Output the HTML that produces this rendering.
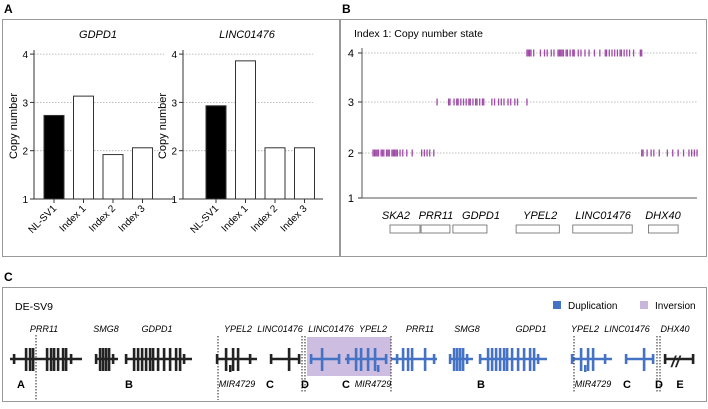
<!DOCTYPE html>
<html><head><meta charset="utf-8"><style>
body{margin:0;background:#fff;font-family:"Liberation Sans",sans-serif}
svg text{font-family:"Liberation Sans",sans-serif}
</style></head><body>
<svg id="fig" width="708" height="404" viewBox="0 0 708 404" xmlns="http://www.w3.org/2000/svg">
<g id="chrome">
<text x="4" y="13" font-size="12" font-weight="bold">A</text>
<text x="342" y="13" font-size="12" font-weight="bold">B</text>
<text x="4" y="281" font-size="12" font-weight="bold">C</text>
<rect x="2.5" y="19.5" width="337" height="237" fill="none" stroke="#999"/>
<rect x="340.5" y="19.5" width="366" height="237" fill="none" stroke="#999"/>
<rect x="2.5" y="287.5" width="704" height="114" fill="none" stroke="#999"/>
</g>
<g id="pa"></g><g id="pb"></g><g id="pc"></g>
</svg>
<script>
const NS="http://www.w3.org/2000/svg";
function mk(p,t,a,txt){const e=document.createElementNS(NS,t);for(const k in a)e.setAttribute(k,a[k]);if(txt!=null)e.textContent=txt;p.appendChild(e);return e;}

// Panel A data
const barCats=["NL-SV1","Index 1","Index 2","Index 3"];
const gdpd1Values=[2.73,3.13,1.92,2.06];
const lincValues=[2.93,3.86,2.06,2.06];
const yTicksA=[1,2,3,4];

// Panel B data (genomic position 0-120, copy number state)
const cnLevel2a=[0,0.5,1,1.5,2,3,3.5,4,5,5.5,6,7,7.5,8,8.5,9,10,11,12.5,14.5,18,19,20,21,22.5];
const cnLevel3=[23.7,28,28.5,30,31,31.5,32.5,33.5,34.5,35.5,36,37,38,38.5,39.5,40.5,41,44,45,46.5,47.5,48.5,50,51,52.5,53.5,57];
const cnLevel4=[57,57.5,58,58.5,59.5,62,63.5,64.5,66,67,68.5,69,69.5,70,70.5,71.5,72,73,74,74.5,76,77,78.5,80,82,84,86,86.5,87.5,88.5,89.5,90.5,91.5,92,93,94,95,96.5,99,99.5];
const cnLevel2b=[99.5,100,101.5,103,104,106,109,111,113,115,117,118,119,120];
const genesB=["SKA2","PRR11","GDPD1","YPEL2","LINC01476","DHX40"];
const geneStartB=[6.3,17.8,29.6,53,74,102];
const geneEndB=[17.4,28.5,42.2,69,96,113];
const geneLabelPosB=[8.5,23.3,40,61.9,85.2,107.4];

// Panel A
(function(){
 const g=document.getElementById('pa');
 const panels=[{title:"GDPD1",vals:gdpd1Values,ax:34,x0:44},{title:"LINC01476",vals:lincValues,ax:183,x0:206}];
 const y=v=>199-(v-1)*48.3;
 panels.forEach((p,pi)=>{
  const sg=mk(g,'g',{});
  
  
  const t=mk(sg,'text',{x:p.ax+64,y:38,'font-size':11,'font-style':'italic','text-anchor':'middle'},p.title);
  
  yTicksA.forEach(v=>{
   if(v>1){const gl=mk(sg,'line',{x1:p.ax,x2:p.ax+130,y1:y(v),y2:y(v),stroke:'#aaa','stroke-dasharray':'1.5,1.5','stroke-width':0.8});}
   mk(sg,'line',{x1:p.ax-4,x2:p.ax,y1:y(v),y2:y(v),stroke:'#333'});
   const tl=mk(sg,'text',{x:p.ax-6,y:y(v)+4,'font-size':10,'text-anchor':'end'},v);
   
  });
  const yl=mk(sg,'text',{x:0,y:0,'font-size':11,'text-anchor':'middle',transform:`translate(${p.ax-17},126) rotate(-90)`},'Copy number');
  
  p.vals.forEach((v,i)=>{
   const bx=p.x0+i*29.5;
   const r=mk(sg,'rect',{x:bx,y:y(v),width:20,height:199-y(v),fill:i==0?'#000':'#fff',stroke:'#333','stroke-width':1});
   
   const cx=bx+10;
   mk(sg,'line',{x1:cx,x2:cx,y1:199,y2:203,stroke:'#333'});
   const xl=mk(sg,'text',{x:0,y:0,'font-size':10,'text-anchor':'end',transform:`translate(${cx+3},${209}) rotate(-45)`},barCats[i]);
   
  });
  mk(sg,'line',{x1:p.ax,x2:p.ax,y1:50,y2:199,stroke:'#333'});
  mk(sg,'line',{x1:p.ax,x2:p.ax+140,y1:199,y2:199,stroke:'#333'});
 });
})();

// Panel B
(function(){
 const g=document.getElementById('pb');
 const ax=362, xr=697;
 const yv={1:198,2:153,3:102,4:53};
 const xs=v=>373+v*2.7;
 const t=mk(g,'text',{x:354,y:37,'font-size':10.5},'Index 1: Copy number state');
 
 [1,2,3,4].forEach(v=>{
  if(v>1){const gl=mk(g,'line',{x1:ax,x2:xr,y1:yv[v],y2:yv[v],stroke:'#aaa','stroke-dasharray':'1.5,1.5','stroke-width':0.8});}
  mk(g,'line',{x1:ax-4,x2:ax,y1:yv[v],y2:yv[v],stroke:'#333'});
  const tl=mk(g,'text',{x:ax-8,y:yv[v]+4,'font-size':11,'text-anchor':'end'},v);
  
 });
 mk(g,'line',{x1:ax,x2:ax,y1:48,y2:198,stroke:'#555'});
 mk(g,'line',{x1:ax,x2:xr,y1:198,y2:198,stroke:'#555'});
 const series=[[cnLevel2a,2],[cnLevel3,3],[cnLevel4,4],[cnLevel2b,2]];
 series.forEach(([arr,lv])=>{
  arr.forEach(p=>{
   const m=mk(g,'rect',{x:xs(p)-0.6,y:yv[lv]-3.5,width:1.3,height:7,fill:'#a04aa8'});
   
  });
 });
 genesB.forEach((n,i)=>{
  const x1=xs(geneStartB[i]), x2=xs(geneEndB[i]);
  const r=mk(g,'rect',{x:x1,y:225,width:x2-x1,height:8,fill:'#fff',stroke:'#666','stroke-width':0.8});
  
  const tl=mk(g,'text',{x:xs(geneLabelPosB[i]),y:219,'font-size':11,'font-style':'italic','text-anchor':'middle'},n);
  
 });
})();

// Panel C
(function(){
 const g=document.getElementById('pc');
 const K='#222', B='#4472c4';
 const t=mk(g,'text',{x:15,y:310,'font-size':10.5},'DE-SV9');
 let e=mk(g,'rect',{x:553,y:301,width:8,height:8,fill:B});
 e=mk(g,'text',{x:568,y:309,'font-size':10},'Duplication');
 e=mk(g,'rect',{x:640,y:301,width:8,height:8,fill:'#c8b6dc'});
 e=mk(g,'text',{x:655,y:309,'font-size':10},'Inversion');
 e=mk(g,'rect',{x:307,y:337,width:84,height:39,fill:'#cdbde0'});
 const labels=[["PRR11",44],["SMG8",106],["GDPD1",157],["YPEL2",238],["LINC01476",280],["LINC01476",331],["YPEL2",373],["PRR11",420],["SMG8",467],["GDPD1",531],["YPEL2",585],["LINC01476",627],["DHX40",675]];
 labels.forEach(([n,x])=>{const l=mk(g,'text',{x:x,y:332,'font-size':9,'font-style':'italic','text-anchor':'middle'},n);});
 const genes=[
  [10,82,K,[14,26,30,33,47,51,54,58,63,66,71]],
  [95,118,K,[96,100,103,106,109,113]],
  [125,192,K,[126,134,138,142,146,150,153,158,164,170,176,180,184]],
  [216,257,K,[217,226,233,238,250]],
  [270,300,K,[271,289,299]],
  [310,340,B,[311,322,339]],
  [345,387,B,[348,356,361,368,375,386]],
  [391,437,B,[397,403,408,412,425,434]],
  [449,473,B,[450,454,457,460,463,467]],
  [479,547,B,[480,488,492,496,500,504,507,512,518,524,530,534,538]],
  [571,612,B,[572,581,588,593,605]],
  [625,654,B,[626,644,653]],
  [664,694,K,[665,693]]
 ];
 genes.forEach(([a,b,c,ex],i)=>{
  const gg=mk(g,'g',{});
  mk(gg,'line',{x1:a,x2:b,y1:359,y2:359,stroke:c,'stroke-width':2.5});
  ex.forEach((x,j)=>{const big=(j==0||j==ex.length-1);mk(gg,'rect',{x:x-1.2,y:big?354:348,width:2.6,height:big?10:23,fill:c});});
 });
 e=mk(g,'text',{x:671,y:367,'font-size':16,'font-weight':'bold','font-style':'italic',fill:K},'//');
 [[230,B],[378,B],[585,B]].forEach(([x,c],i)=>{mk(g,'rect',{x:x-1,y:365,width:2.5,height:7,fill:i==0?K:c});});
 [[36,335,400],[218,336,400],[302,336,392],[305,336,392],[391,336,392],[574,336,392],[657,336,392],[660,336,392]].forEach(([x,y1,y2])=>{
  const l=mk(g,'line',{x1:x,x2:x,y1:y1,y2:y2,stroke:'#222','stroke-dasharray':'1.5,1.5','stroke-width':1});
 });
 [["A",21],["B",129],["C",270],["D",305],["C",346],["B",481],["C",627],["D",659],["E",680]].forEach(([n,x])=>{const l=mk(g,'text',{x:x,y:388,'font-size':11,'font-weight':'bold','text-anchor':'middle'},n);});
 [[237,'MIR4729'],[373,'MIR4729'],[593,'MIR4729']].forEach(([x,n])=>{const l=mk(g,'text',{x:x,y:387,'font-size':9,'font-style':'italic','text-anchor':'middle'},n);});
})();
</script>
</body></html>
